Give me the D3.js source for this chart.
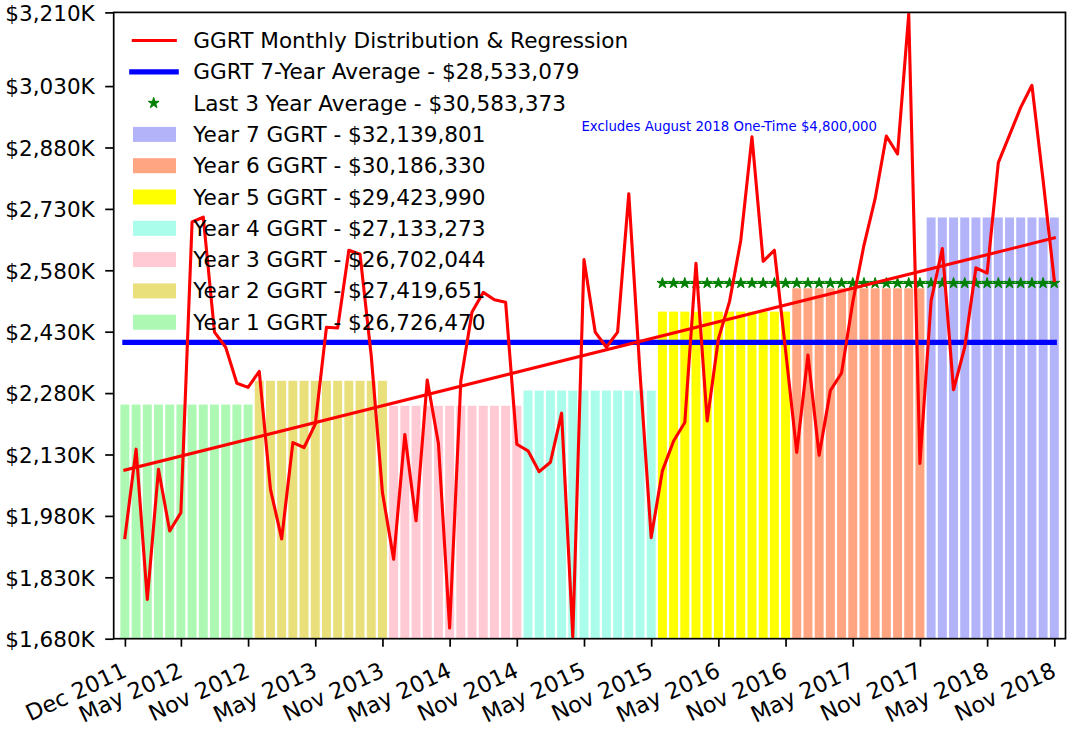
<!DOCTYPE html>
<html>
<head>
<meta charset="utf-8">
<script src="https://cdn.jsdelivr.net/npm/d3@7"></script>
<style>
body { margin: 0; background: #fff; }
text { font-family: "DejaVu Sans", sans-serif; }
</style>
</head>
<body>
<script>
// monthly GGRT distribution, $K, Dec 2011 .. Nov 2018
var monthly = [
    1927, 2143, 1776, 2094, 1943, 1988, 2698, 2710, 2429, 2392, 2304, 2294,
    2333, 2045, 1924, 2159, 2147, 2204, 2441, 2439, 2629, 2619, 2371, 2037,
    1874, 2179, 1968, 2312, 2157, 1706, 2310, 2478, 2526, 2508, 2502, 2155,
    2139, 2088, 2111, 2231, 1684, 2606, 2429, 2392, 2429, 2767, 2330, 1927,
    2090, 2163, 2208, 2597, 2212, 2412, 2504, 2653, 2906, 2602, 2629, 2385,
    2135, 2373, 2128, 2286, 2329, 2502, 2641, 2755, 2908, 2864, 3206, 2108,
    2506, 2633, 2288, 2392, 2586, 2573, 2843, 2910, 2978, 3032, 2800, 2555
];

// bar height for each GGRT year, $K
var yearAvg = [2252, 2310, 2249, 2286, 2479, 2536, 2709];
var yearLabels = [
    "Year 1 GGRT - $26,726,470",
    "Year 2 GGRT - $27,419,651",
    "Year 3 GGRT - $26,702,044",
    "Year 4 GGRT - $27,133,273",
    "Year 5 GGRT - $29,423,990",
    "Year 6 GGRT - $30,186,330",
    "Year 7 GGRT - $32,139,801"
];
var yearColors = ["#adf9b3", "#e9e07b", "#ffcad3", "#aafdea", "#ffff00", "#ffa582", "#b3b3fa"];

var sevenYearAvg = 2404;
var last3Avg = 2548.6;
var last3Start = 48;
var regression = [2092, 2659];   // regression value at first and last month

var lineLabels = [
    "GGRT Monthly Distribution & Regression",
    "GGRT 7-Year Average - $28,533,079",
    "Last 3 Year Average - $30,583,373"
];
var note = "Excludes August 2018 One-Time $4,800,000";

var tickIndex = [0, 5, 11, 17, 23, 29, 35, 41, 47, 53, 59, 65, 71, 77, 83];
var tickLabels = ["Dec 2011", "May 2012", "Nov 2012", "May 2013", "Nov 2013", "May 2014", "Nov 2014",
                  "May 2015", "Nov 2015", "May 2016", "Nov 2016", "May 2017", "Nov 2017", "May 2018", "Nov 2018"];
var yTicks = [1680, 1830, 1980, 2130, 2280, 2430, 2580, 2730, 2880, 3030, 3210];

var width = 1072, height = 732;
var pl = 113.7, pr = 1065.5, pt = 12.4, pb = 638.7;
var fs = 21.5;

var x = d3.scaleLinear().domain([-1, 84]).range([pl, pr]);
var y = d3.scaleLinear().domain([1680, 3210]).range([pb, pt]);

var svg = d3.select('body').append('svg')
        .attr('width', width)
        .attr('height', height)
;

svg.append('clipPath').attr('id', 'plot')
    .append('rect')
        .attr('x', pl).attr('y', pt)
        .attr('width', pr - pl).attr('height', pb - pt);

var plot = svg.append('g').attr('clip-path', 'url(#plot)');

// bars: one per month, coloured by GGRT year
plot.selectAll('rect.bar')
    .data(monthly)
    .enter().append('rect')
        .attr('class', 'bar')
        .attr('x', function (d, i) { return x(i - 0.4); })
        .attr('width', function (d, i) { return x(i + 0.4) - x(i - 0.4); })
        .attr('y', function (d, i) { return y(yearAvg[Math.floor(i / 12)]); })
        .attr('height', function (d, i) { return y(1680) - y(yearAvg[Math.floor(i / 12)]); })
        .style('fill', function (d, i) { return yearColors[Math.floor(i / 12)]; })
;

// legend (drawn under the lines, no frame)
var legend = svg.append('g');
var rowY = function (k) { return 40.5 + k * 31.3; };
var legendRows = lineLabels.concat(yearLabels.slice().reverse());

legend.selectAll('text')
    .data(legendRows)
    .enter().append('text')
        .attr('x', 193.3)
        .attr('y', function (d, k) { return rowY(k) + 7.5; })
        .style('font-size', '21.6px')
        .style('fill', '#000')
        .text(function (d) { return d; })
;
legend.append('line')
    .attr('x1', 133.3).attr('x2', 175.3).attr('y1', rowY(0)).attr('y2', rowY(0))
    .style('stroke', '#ff0000').style('stroke-width', 3.1).style('stroke-linecap', 'square');
legend.append('line')
    .attr('x1', 131.8).attr('x2', 176.2).attr('y1', rowY(1)).attr('y2', rowY(1))
    .style('stroke', '#0000ff').style('stroke-width', 5.2).style('stroke-linecap', 'square');
legend.append('path')
    .attr('d', d3.symbol().type(d3.symbolStar).size(36))
    .attr('transform', 'translate(153.7,' + rowY(2) + ')')
    .style('fill', '#008000').style('stroke', '#008000').style('stroke-width', 1);
legend.selectAll('rect')
    .data(yearColors.slice().reverse())
    .enter().append('rect')
        .attr('x', 133)
        .attr('y', function (d, k) { return rowY(k + 3) - 7.5; })
        .attr('width', 43)
        .attr('height', 15)
        .style('fill', function (d) { return d; })
;

// 7-year average
plot.append('line')
    .attr('x1', x(0)).attr('x2', x(monthly.length - 1))
    .attr('y1', y(sevenYearAvg)).attr('y2', y(sevenYearAvg))
    .style('stroke', '#0000ff').style('stroke-width', 5.2).style('stroke-linecap', 'square');

// last 3 year average, star markers
var last3 = d3.range(last3Start, monthly.length);
plot.append('path')
    .attr('d', d3.line()(last3.map(function (i) { return [x(i), y(last3Avg)]; })))
    .style('fill', 'none').style('stroke', '#008000').style('stroke-width', 1.5);
plot.selectAll('path.star')
    .data(last3)
    .enter().append('path')
        .attr('class', 'star')
        .attr('d', d3.symbol().type(d3.symbolStar).size(36))
        .attr('transform', function (i) { return 'translate(' + x(i) + ',' + y(last3Avg) + ')'; })
        .style('fill', '#008000').style('stroke', '#008000').style('stroke-width', 1)
;

// regression
plot.append('line')
    .attr('x1', x(0)).attr('x2', x(monthly.length - 1))
    .attr('y1', y(regression[0])).attr('y2', y(regression[1]))
    .style('stroke', '#ff0000').style('stroke-width', 3.1).style('stroke-linecap', 'square');

// monthly distribution
var line = d3.line()
    .x(function (d, i) { return x(i); })
    .y(function (d) { return y(d); });
plot.append('path')
    .datum(monthly)
    .attr('d', line)
    .style('fill', 'none')
    .style('stroke', '#ff0000')
    .style('stroke-width', 3.1)
    .style('stroke-linejoin', 'round')
    .style('stroke-linecap', 'square')
;

svg.append('text')
    .attr('x', 581.4).attr('y', 130.7)
    .style('font-size', '13.3px')
    .style('fill', '#0000ff')
    .text(note);

// axes
var yAxis = d3.axisLeft(y)
    .tickValues(yTicks)
    .tickSize(8.5)
    .tickPadding(10.5)
    .tickFormat(function (v) { return '$' + d3.format(',')(v) + 'K'; });
var gy = svg.append('g').attr('transform', 'translate(' + pl + ',0)').call(yAxis);

var xAxis = d3.axisBottom(x)
    .tickValues(tickIndex)
    .tickSize(8)
    .tickFormat(function (v, k) { return tickLabels[k]; });
var gx = svg.append('g').attr('transform', 'translate(0,' + pb + ')').call(xAxis);

[gx, gy].forEach(function (g) {
    g.select('.domain').remove();
    g.selectAll('line').style('stroke', '#000').style('stroke-width', 1.7);
    g.selectAll('text').style('font-size', fs + 'px').style('fill', '#000')
        .style('font-family', '"DejaVu Sans", sans-serif');
});
gy.selectAll('text').attr('dy', '0.36em');
gx.selectAll('text')
    .attr('y', null).attr('dy', null)
    .style('text-anchor', 'end')
    .style('font-size', '22.5px')
    .attr('transform', 'translate(2.75,37.3) rotate(-25)');

svg.append('rect')
    .attr('x', pl).attr('y', pt)
    .attr('width', pr - pl).attr('height', pb - pt)
    .style('fill', 'none').style('stroke', '#000').style('stroke-width', 1.7);
</script>
</body>
</html>
